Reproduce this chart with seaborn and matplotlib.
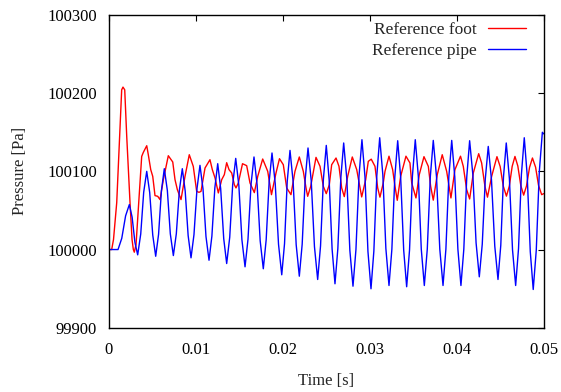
import numpy as np
import pandas as pd
import matplotlib
matplotlib.use("Agg")
import matplotlib.pyplot as plt
import seaborn as sns

# ---- data ----
foot_t = [0, 0.00034, 0.00055, 0.00092, 0.00149, 0.00164, 0.00184, 0.00207, 0.00245, 0.00268,
          0.00283, 0.00294, 0.00314, 0.00340, 0.00379, 0.00398, 0.00437, 0.00455, 0.00483, 0.00506,
          0.00532, 0.00563, 0.00590, 0.00628, 0.00685, 0.00736, 0.00762, 0.00789, 0.00831, 0.00877,
          0.00926, 0.00972, 0.01011, 0.01038, 0.01061, 0.01107, 0.01164, 0.01191, 0.01222, 0.01260,
          0.01299, 0.01329, 0.01356, 0.01383, 0.01414, 0.01444, 0.01463, 0.01490, 0.01538, 0.01586,
          0.01624, 0.01674, 0.01713, 0.01770, 0.01828, 0.01871, 0.01923, 0.01963, 0.02007, 0.02046,
          0.02095, 0.02141, 0.02191, 0.02237, 0.02268, 0.02287, 0.02322, 0.02383, 0.02429, 0.02467,
          0.02501, 0.02536, 0.02563, 0.02613, 0.02647, 0.02678, 0.02708, 0.02747, 0.02800, 0.02851,
          0.02908, 0.02954, 0.02984, 0.03018, 0.03061, 0.03092, 0.03118, 0.03156, 0.03176, 0.03222,
          0.03264, 0.03291, 0.03317, 0.03356, 0.03417, 0.03463, 0.03483, 0.03532, 0.03570, 0.03624,
          0.03674, 0.03701, 0.03731, 0.03777, 0.03834, 0.03885, 0.03934, 0.03980, 0.04044, 0.04076,
          0.04115, 0.04149, 0.04191, 0.04253, 0.04287, 0.04325, 0.04354, 0.04402, 0.04463, 0.04500,
          0.04536, 0.04572, 0.04605, 0.04638, 0.04670, 0.04703, 0.04737, 0.04770, 0.04803, 0.04838,
          0.04871, 0.04907, 0.04941, 0.04977, 0.05000]
foot_p = [100000, 100000, 100012.8, 100060.0, 100204.3, 100207.8, 100204.3, 100144.7, 100059.6, 100012.8,
          100000, 99996.6, 100006.4, 100051.1, 100119.1, 100124.3, 100132.8, 100121.3, 100102.2, 100093.6,
          100069.0, 100068.1, 100063.9, 100089.4, 100120.0, 100112.0, 100089.4, 100076.6, 100063.9, 100093.6,
          100121.3, 100106.4, 100074.4, 100073.2, 100074.4, 100104.3, 100114.9, 100102.2, 100091.6, 100072.4,
          100089.4, 100095.8, 100111.1, 100102.2, 100097.9, 100083.0, 100078.8, 100085.2, 100109.8, 100107.3,
          100085.2, 100072.8, 100093.6, 100115.8, 100100.0, 100070.2, 100097.9, 100116.2, 100108.5, 100078.8,
          100070.2, 100100.0, 100118.4, 100100.0, 100078.8, 100068.1, 100080.8, 100117.9, 100106.4, 100080.8,
          100071.5, 100083.0, 100108.5, 100117.1, 100106.4, 100078.8, 100067.7, 100093.6, 100118.4, 100102.2,
          100067.3, 100089.4, 100112.8, 100115.6, 100106.4, 100078.8, 100067.0, 100085.2, 100100.0, 100119.4,
          100102.2, 100080.8, 100063.0, 100093.6, 100119.4, 100110.7, 100085.2, 100066.0, 100095.8, 100118.8,
          100106.4, 100080.8, 100063.2, 100095.8, 100121.3, 100100.0, 100066.0, 100102.2, 100119.4, 100106.4,
          100076.6, 100064.7, 100097.9, 100122.6, 100110.7, 100080.8, 100067.0, 100093.6, 100118.8, 100106.1,
          100081.0, 100068.3, 100081.1, 100106.4, 100119.1, 100106.8, 100082.0, 100069.6, 100081.5, 100105.2,
          100117.1, 100105.4, 100082.1, 100070.2, 100071.5]

pipe_t = [0, 0.00107, 0.00150, 0.00194, 0.00237, 0.00269, 0.00301, 0.00333, 0.00368, 0.00402,
          0.00437, 0.00471, 0.00506, 0.00540, 0.00573, 0.00606, 0.00639, 0.00674, 0.00708, 0.00743,
          0.00777, 0.00812, 0.00846, 0.00879, 0.00913, 0.00946, 0.00980, 0.01015, 0.01049, 0.01084,
          0.01118, 0.01153, 0.01186, 0.01220, 0.01253, 0.01287, 0.01322, 0.01356, 0.01391, 0.01425,
          0.01460, 0.01496, 0.01531, 0.01567, 0.01601, 0.01636, 0.01670, 0.01706, 0.01741, 0.01777,
          0.01810, 0.01844, 0.01877, 0.01914, 0.01952, 0.01989, 0.02021, 0.02052, 0.02084, 0.02120,
          0.02155, 0.02191, 0.02224, 0.02258, 0.02291, 0.02328, 0.02365, 0.02402, 0.02435, 0.02468,
          0.02501, 0.02534, 0.02568, 0.02601, 0.02634, 0.02668, 0.02701, 0.02737, 0.02772, 0.02808,
          0.02842, 0.02877, 0.02911, 0.02946, 0.02980, 0.03015, 0.03048, 0.03082, 0.03115, 0.03151,
          0.03186, 0.03222, 0.03255, 0.03289, 0.03322, 0.03356, 0.03391, 0.03425, 0.03458, 0.03491,
          0.03524, 0.03559, 0.03593, 0.03628, 0.03662, 0.03697, 0.03731, 0.03768, 0.03806, 0.03843,
          0.03876, 0.03910, 0.03943, 0.03978, 0.04014, 0.04049, 0.04082, 0.04116, 0.04149, 0.04186,
          0.04223, 0.04260, 0.04294, 0.04329, 0.04363, 0.04400, 0.04438, 0.04475, 0.04507, 0.04538,
          0.04570, 0.04606, 0.04642, 0.04678, 0.04711, 0.04744, 0.04777, 0.04811, 0.04846, 0.04880,
          0.04915, 0.04950, 0.04985, 0.05000]
pipe_p = [100000, 100000, 100014.4, 100043.1, 100057.5, 100041.4, 100009.3, 99993.2, 100019.9, 100073.3,
          100100.0, 100072.9, 100018.6, 99991.4, 100019.4, 100075.4, 100103.4, 100075.6, 100020.1, 99992.3,
          100020.1, 100075.6, 100103.4, 100074.9, 100017.9, 99989.4, 100019.0, 100078.1, 100107.7, 100077.4,
          100016.7, 99986.3, 100017.2, 100078.9, 100109.8, 100077.9, 100014.0, 99982.1, 100015.7, 100083.0,
          100116.6, 100081.9, 100012.6, 99977.9, 100013.0, 100083.3, 100118.4, 100082.7, 100011.2, 99975.4,
          100012.4, 100086.5, 100123.5, 100084.6, 100006.7, 99967.7, 100007.5, 100087.0, 100126.8, 100086.6,
          100006.1, 99965.9, 100006.9, 100088.9, 100129.9, 100087.9, 100003.8, 99961.7, 100004.6, 100090.3,
          100133.2, 100088.9, 100000.5, 99956.2, 100001.2, 100091.3, 100136.3, 100090.5, 99999.0, 99953.1,
          99999.9, 100093.6, 100140.5, 100092.8, 99997.5, 99949.8, 99998.1, 100094.7, 100143.0, 100095.8,
          100001.3, 99954.0, 100000.3, 100092.9, 100139.2, 100092.5, 99999.1, 99952.4, 99999.4, 100093.5,
          100140.5, 100093.9, 100000.6, 99954.0, 100000.4, 100093.2, 100139.6, 100093.2, 100000.4, 99954.0,
          100000.4, 100093.2, 100139.6, 100093.2, 100000.4, 99954.0, 100000.3, 100092.9, 100139.2, 100095.7,
          100008.6, 99965.1, 100006.8, 100090.2, 100131.9, 100089.4, 100004.3, 99961.7, 100005.4, 100092.6,
          100136.3, 100090.7, 99999.6, 99954.0, 100001.3, 100095.8, 100143.0, 100094.5, 99997.4, 99948.9,
          99999.2, 100099.7, 100150.0, 100148.0]

series_names = ["Reference foot", "Reference pipe"]
series_colors = ["#ff0000", "#0000ff"]
x_ticks = [0, 0.01, 0.02, 0.03, 0.04, 0.05]
x_tick_labels = ["0", "0.01", "0.02", "0.03", "0.04", "0.05"]
y_ticks = [99900, 100000, 100100, 100200, 100300]
y_tick_labels = ["99900", "100000", "100100", "100200", "100300"]

df = pd.concat([
    pd.DataFrame({"t": foot_t, "p": foot_p, "series": series_names[0]}),
    pd.DataFrame({"t": pipe_t, "p": pipe_p, "series": series_names[1]}),
], ignore_index=True)

sns.set_style("white")
plt.rcParams["font.family"] = ["Liberation Serif", "DejaVu Serif"]
plt.rcParams["font.size"] = 12

fig = plt.figure(figsize=(5.61, 3.92), dpi=100)
ax = fig.add_axes([0.1938, 0.164, 0.9691 - 0.1938, 0.9617 - 0.164])

sns.lineplot(data=df, x="t", y="p", hue="series", palette=series_colors,
             hue_order=series_names, sort=False, estimator=None,
             linewidth=1.0, ax=ax)

ax.set_xlim(0, 0.05)
ax.set_ylim(99900, 100300)
ax.set_xticks(x_ticks)
ax.set_xticklabels(x_tick_labels)
ax.set_yticks(y_ticks)
ax.set_yticklabels(y_tick_labels)
ax.tick_params(direction="in", length=4, width=0.8, top=True, right=True,
               labelsize=12, colors="black")
ax.tick_params(axis="x", pad=10.5)
ax.tick_params(axis="y", pad=8.3)
for s in ax.spines.values():
    s.set_color("black")
    s.set_linewidth(1.0)

ax.set_xlabel("Time [s]", fontsize=12, labelpad=10.7)
ax.set_ylabel("Pressure [Pa]", fontsize=12, labelpad=13.8)

leg = ax.legend(loc="upper right", frameon=False, markerfirst=False,
                fontsize=12.5, handlelength=2.2, handletextpad=0.63,
                borderaxespad=0.0, labelspacing=0.25,
                bbox_to_anchor=(0.975, 1.0))

fig.savefig("out.png", dpi=100)
